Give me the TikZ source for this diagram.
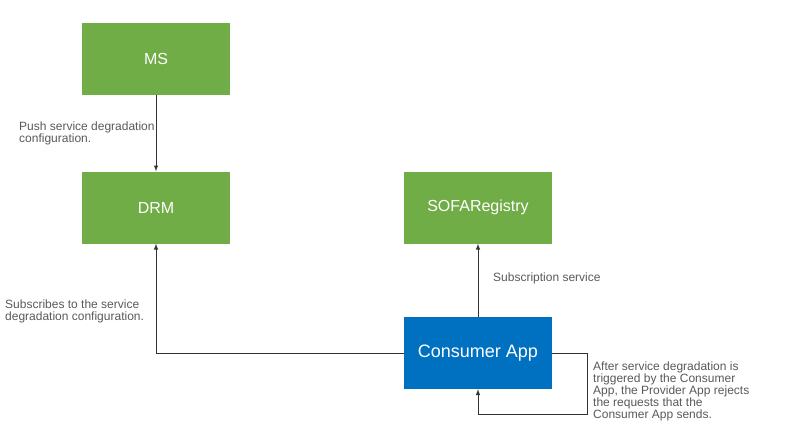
\documentclass[tikz,border=0pt]{standalone}
\usepackage{fontspec}
\setmainfont{Liberation Sans}
\usetikzlibrary{arrows}
\usetikzlibrary{positioning}
\definecolor{boxgreen}{HTML}{70AD47}
\definecolor{boxblue}{HTML}{0070C0}
\definecolor{notegray}{HTML}{595959}
\definecolor{linegray}{HTML}{333333}
\tikzset{
	greenbox/.style={fill=boxgreen, text=white, minimum width=148pt, minimum height=72pt, inner sep=0pt, font=\fontsize{16}{19}\selectfont},
	bluebox/.style={fill=boxblue, text=white, minimum width=148pt, minimum height=72pt, inner sep=0pt, font=\fontsize{18}{21}\selectfont},
	note/.style={text=notegray, align=left, inner sep=0pt, font=\fontsize{12}{12}\selectfont},
	link/.style={draw=linegray, line width=1pt, ->, >=latex}
}

\begin{document}
\begin{tikzpicture}[x=1pt, y=-1pt]
	\useasboundingbox (0,0) rectangle (795,434);

	% --- boxes ---
	\node[greenbox] (ms)       at (156, 58.5)  {MS};
	\node[greenbox] (drm)      at (156, 207.5) {DRM};
	\node[greenbox] (registry) at (478, 207.5) {SOFARegistry};
	\node[bluebox]  (consumer) at (478, 353)   {Consumer App};

	% --- notes ---
	\node[note, anchor=north west] (pushnote) at (19, 122) {Push service degradation\\configuration.};
	\node[note, anchor=north west] (subnote)  at (5, 300)  {Subscribes to the service\\degradation configuration.};
	\node[note, anchor=north west] (regnote)  at (493, 273) {Subscription service};
	\node[note, anchor=north west] (rejnote)  at (593, 362) {After service degradation is\\triggered by the Consumer\\App, the Provider App rejects\\the requests that the\\Consumer App sends.};

	% --- loop corners ---
	\coordinate (loopa) at (587, 353);
	\coordinate (loopb) at (587, 414);
	\coordinate (loopc) at (478, 414);

	\draw[link] (ms) -- (drm);
	\draw[link] (consumer) -| (drm);
	\draw[link] (consumer) -- (registry);
	\draw[link] (consumer.east) -- (loopa) -- (loopb) -- (loopc) -- (consumer.south);

\end{tikzpicture}
\end{document}
